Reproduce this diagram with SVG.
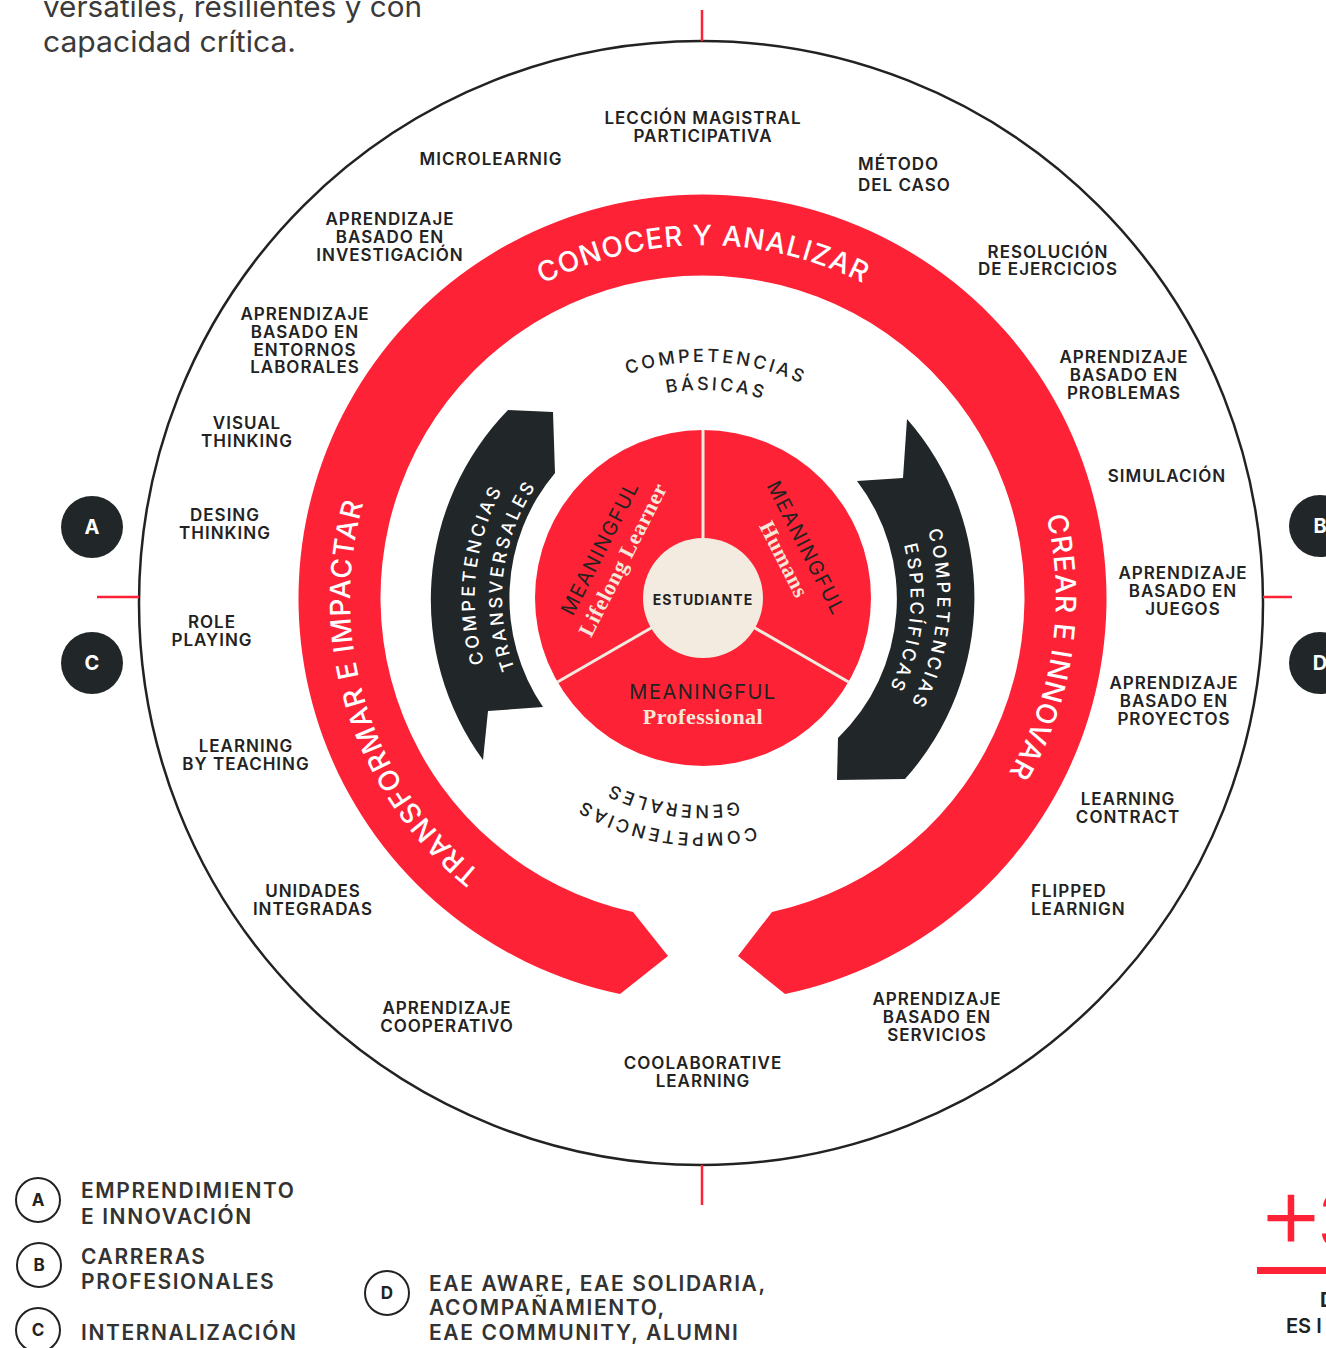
<svg xmlns="http://www.w3.org/2000/svg" width="1326" height="1348" viewBox="0 0 1326 1348">
<style>
.lbl{font-family:Inter,"Liberation Sans",sans-serif;font-weight:600;font-size:17px;letter-spacing:1px;fill:#222;text-anchor:middle}
.lbs{text-anchor:start}
.ring{font-family:Inter,"Liberation Sans",sans-serif;font-weight:500;font-size:28px;letter-spacing:1px;fill:#fff;text-anchor:middle}
.comp{font-family:Inter,"Liberation Sans",sans-serif;font-weight:500;font-size:18px;letter-spacing:3px;fill:#222;text-anchor:middle}
.cw{fill:#fff}
.mean{font-family:Inter,"Liberation Sans",sans-serif;font-weight:400;font-size:20px;letter-spacing:1.5px;fill:#222;text-anchor:middle}
.serif{font-family:"Liberation Serif","DejaVu Serif",serif;font-weight:700;font-size:22px;letter-spacing:0.5px;fill:#F6E8DA;text-anchor:middle}
.badge{fill:#212628}
.bt{font-family:Inter,"Liberation Sans",sans-serif;font-weight:700;font-size:20px;fill:#fff;text-anchor:middle}
.lc{fill:none;stroke:#222;stroke-width:2}
.lt{font-family:Inter,"Liberation Sans",sans-serif;font-weight:700;font-size:17px;fill:#222;text-anchor:middle}
.leg{font-family:Inter,"Liberation Sans",sans-serif;font-weight:600;font-size:21px;letter-spacing:1.6px;fill:#333}
.tick{stroke:#FE2236;stroke-width:2.5}
</style>
<defs>
<path id="p352" d="M951.9,846.9 A352,352 0 1 1 454.1,349.1 A352,352 0 1 1 951.9,846.9"/>
<path id="p236" d="M869.88,764.88 A236,236 0 1 1 536.12,431.12 A236,236 0 1 1 869.88,764.88"/>
<path id="p208" d="M850.08,745.08 A208,208 0 1 1 555.92,450.92 A208,208 0 1 1 850.08,745.08"/>
<path id="p234" d="M868.46,763.46 A234,234 0 1 1 537.54,432.54 A234,234 0 1 1 868.46,763.46"/>
<path id="p206" d="M848.66,743.66 A206,206 0 1 1 557.34,452.34 A206,206 0 1 1 848.66,743.66"/>
<path id="p228" d="M864.22,759.22 A228,228 0 1 1 541.78,436.78 A228,228 0 1 1 864.22,759.22"/>
<path id="p201" d="M845.13,740.13 A201,201 0 1 1 560.87,455.87 A201,201 0 1 1 845.13,740.13"/>
<path id="p233" d="M867.75,762.75 A233,233 0 1 1 538.25,433.25 A233,233 0 1 1 867.75,762.75"/>
<path id="p207" d="M849.37,744.37 A207,207 0 1 1 556.63,451.63 A207,207 0 1 1 849.37,744.37"/>
</defs>
<rect width="1326" height="1348" fill="#fff"/>

<g id="intro">
<text x="43" y="17" font-family="Inter,'Liberation Sans',sans-serif" font-size="29" fill="#3a3a3a" textLength="379" lengthAdjust="spacingAndGlyphs">versátiles, resilientes y con</text>
<text x="43" y="52" font-family="Inter,'Liberation Sans',sans-serif" font-size="29" fill="#3a3a3a" textLength="253" lengthAdjust="spacingAndGlyphs">capacidad crítica.</text>
</g>

<g id="connectors">
<circle cx="701" cy="603" r="562" fill="none" stroke="#222" stroke-width="2.5"/>
<line class="tick" x1="702" y1="10" x2="702" y2="41"/>
<line class="tick" x1="702" y1="1165" x2="702" y2="1205"/>
<line class="tick" x1="97" y1="597" x2="139" y2="597"/>
<line class="tick" x1="1263" y1="597" x2="1292" y2="597"/>
</g>

<g id="ring">
<path d="M620,994 A404,404 0 1 1 785,994 L738,956 L772,912 A322,322 0 1 0 633,912 L668,956 Z" fill="#FE2236"/>
<text class="ring"><textPath href="#p352" startOffset="62.5%">CONOCER Y ANALIZAR</textPath></text>
<text class="ring" letter-spacing="1.6"><textPath href="#p352" startOffset="89.8%">CREAR E INNOVAR</textPath></text>
<text class="ring"><textPath href="#p352" startOffset="32.6%">TRANSFORMAR E IMPACTAR</textPath></text>
</g>

<g id="arrow-transversales">
<path d="M508,410 L553,412 L555,473 A194,194 0 0 0 543,707 L488,711 L483,760 A272,272 0 0 1 508,410 Z" fill="#212628"/>
<text class="comp cw"><textPath href="#p228" startOffset="39.2%">COMPETENCIAS</textPath></text>
<text class="comp cw"><textPath href="#p201" startOffset="39.4%">TRANSVERSALES</textPath></text>
</g>

<g id="arrow-especificas">
<path d="M907,419 A271,271 0 0 1 905,779 L837,780 L838,738 A194,194 0 0 0 857,481 L903,478 Z" fill="#212628"/>
<text class="comp cw"><textPath href="#p233" startOffset="89%">COMPETENCIAS</textPath></text>
<text class="comp cw"><textPath href="#p207" startOffset="89.1%">ESPECÍFICAS</textPath></text>
</g>

<g id="basicas">
<text class="comp"><textPath href="#p236" startOffset="63.4%">COMPETENCIAS</textPath></text>
<text class="comp"><textPath href="#p208" startOffset="63.5%">BÁSICAS</textPath></text>
</g>

<g id="generales">
<text class="comp"><textPath href="#p234" startOffset="15%">COMPETENCIAS</textPath></text>
<text class="comp"><textPath href="#p206" startOffset="14.8%">GENERALES</textPath></text>
</g>

<g id="pie">
<circle cx="703" cy="598" r="168" fill="#FE2236"/>
<line x1="703" y1="598" x2="703" y2="430" stroke="#F3EBDF" stroke-width="3"/>
<line x1="703" y1="598" x2="557.5" y2="682" stroke="#F3EBDF" stroke-width="3"/>
<line x1="703" y1="598" x2="848.5" y2="682" stroke="#F3EBDF" stroke-width="3"/>
<g transform="translate(600,548) rotate(-63)">
<text class="mean" x="0" y="7">MEANINGFUL</text>
<text class="serif" x="0" y="33">Lifelong Learner</text>
</g>
<g transform="translate(806,548) rotate(63)">
<text class="mean" x="0" y="7">MEANINGFUL</text>
<text class="serif" x="0" y="32">Humans</text>
</g>
<text class="mean" x="703" y="699">MEANINGFUL</text>
<text class="serif" x="703" y="724">Professional</text>
</g>

<g id="estudiante">
<circle cx="703" cy="598" r="60" fill="#F3EBDF"/>
<text x="703" y="605" font-family="Inter,'Liberation Sans',sans-serif" font-weight="700" font-size="14" letter-spacing="1" fill="#222" text-anchor="middle">ESTUDIANTE</text>
</g>

<g id="n-leccion"><text class="lbl" x="703" y="124">LECCIÓN MAGISTRAL</text><text class="lbl" x="703" y="142">PARTICIPATIVA</text></g>
<g id="n-microlearnig"><text class="lbl" x="491" y="165">MICROLEARNIG</text></g>
<g id="n-metodo"><text class="lbl lbs" x="858" y="170">MÉTODO</text><text class="lbl lbs" x="858" y="191">DEL CASO</text></g>
<g id="n-resolucion"><text class="lbl" x="1048" y="258">RESOLUCIÓN</text><text class="lbl" x="1048" y="275">DE EJERCICIOS</text></g>
<g id="n-problemas"><text class="lbl" x="1124" y="363">APRENDIZAJE</text><text class="lbl" x="1124" y="381">BASADO EN</text><text class="lbl" x="1124" y="399">PROBLEMAS</text></g>
<g id="n-simulacion"><text class="lbl" x="1167" y="482">SIMULACIÓN</text></g>
<g id="n-juegos"><text class="lbl" x="1183" y="579">APRENDIZAJE</text><text class="lbl" x="1183" y="597">BASADO EN</text><text class="lbl" x="1183" y="615">JUEGOS</text></g>
<g id="n-proyectos"><text class="lbl" x="1174" y="689">APRENDIZAJE</text><text class="lbl" x="1174" y="707">BASADO EN</text><text class="lbl" x="1174" y="725">PROYECTOS</text></g>
<g id="n-contract"><text class="lbl" x="1128" y="805">LEARNING</text><text class="lbl" x="1128" y="823">CONTRACT</text></g>
<g id="n-flipped"><text class="lbl lbs" x="1031" y="897">FLIPPED</text><text class="lbl lbs" x="1031" y="915">LEARNIGN</text></g>
<g id="n-servicios"><text class="lbl" x="937" y="1005">APRENDIZAJE</text><text class="lbl" x="937" y="1023">BASADO EN</text><text class="lbl" x="937" y="1041">SERVICIOS</text></g>
<g id="n-coolaborative"><text class="lbl" x="703" y="1069">COOLABORATIVE</text><text class="lbl" x="703" y="1087">LEARNING</text></g>
<g id="n-cooperativo"><text class="lbl" x="447" y="1014">APRENDIZAJE</text><text class="lbl" x="447" y="1032">COOPERATIVO</text></g>
<g id="n-unidades"><text class="lbl" x="313" y="897">UNIDADES</text><text class="lbl" x="313" y="915">INTEGRADAS</text></g>
<g id="n-teaching"><text class="lbl" x="246" y="752">LEARNING</text><text class="lbl" x="246" y="770">BY TEACHING</text></g>
<g id="n-role"><text class="lbl" x="212" y="628">ROLE</text><text class="lbl" x="212" y="646">PLAYING</text></g>
<g id="n-desing"><text class="lbl" x="225" y="521">DESING</text><text class="lbl" x="225" y="539">THINKING</text></g>
<g id="n-visual"><text class="lbl" x="247" y="429">VISUAL</text><text class="lbl" x="247" y="447">THINKING</text></g>
<g id="n-entornos"><text class="lbl" x="305" y="320">APRENDIZAJE</text><text class="lbl" x="305" y="338">BASADO EN</text><text class="lbl" x="305" y="356">ENTORNOS</text><text class="lbl" x="305" y="373">LABORALES</text></g>
<g id="n-investigacion"><text class="lbl" x="390" y="225">APRENDIZAJE</text><text class="lbl" x="390" y="243">BASADO EN</text><text class="lbl" x="390" y="261">INVESTIGACIÓN</text></g>

<g id="badge-a"><circle class="badge" cx="92" cy="527" r="31"/><text class="bt" x="92" y="534">A</text></g>
<g id="badge-c"><circle class="badge" cx="92" cy="663" r="31"/><text class="bt" x="92" y="670">C</text></g>
<g id="badge-b"><circle class="badge" cx="1320" cy="526" r="31"/><text class="bt" x="1320" y="533">B</text></g>
<g id="badge-d"><circle class="badge" cx="1320" cy="663" r="31"/><text class="bt" x="1320" y="670">D</text></g>

<g id="legend-a"><circle class="lc" cx="38" cy="1200" r="22"/><text class="lt" x="38" y="1206">A</text>
<text class="leg" x="81" y="1198" font-weight="700" fill="#1d1d1b">EMPRENDIMIENTO</text><text class="leg" x="81" y="1224" font-weight="700" fill="#1d1d1b">E INNOVACIÓN</text></g>
<g id="legend-b"><circle class="lc" cx="39" cy="1265" r="22"/><text class="lt" x="39" y="1271">B</text>
<text class="leg" x="81" y="1264">CARRERAS</text><text class="leg" x="81" y="1289">PROFESIONALES</text></g>
<g id="legend-c"><circle class="lc" cx="38" cy="1330" r="22"/><text class="lt" x="38" y="1336">C</text>
<text class="leg" x="81" y="1340">INTERNALIZACIÓN</text></g>
<g id="legend-d"><circle class="lc" cx="387" cy="1293" r="22"/><text class="lt" x="387" y="1299">D</text>
<text class="leg" x="429" y="1291" font-size="22" letter-spacing="2">EAE AWARE, EAE SOLIDARIA,</text>
<text class="leg" x="429" y="1315" font-size="22" letter-spacing="2">ACOMPAÑAMIENTO,</text>
<text class="leg" x="429" y="1340" font-size="22" letter-spacing="2">EAE COMMUNITY, ALUMNI</text></g>

<g id="corner">
<text x="1257" y="1248" font-family="Inter,'Liberation Sans',sans-serif" font-weight="300" font-size="104" fill="#FE2236">+<tspan x="1317" y="1247" font-size="74">3</tspan></text>
<rect x="1257" y="1267" width="69" height="7" fill="#FE2236"/>
<text x="1320" y="1307" font-family="Inter,'Liberation Sans',sans-serif" font-weight="700" font-size="20" fill="#222">D</text>
<text x="1286" y="1333" font-family="Inter,'Liberation Sans',sans-serif" font-weight="600" font-size="20" fill="#222">ES I</text>
</g>
</svg>
